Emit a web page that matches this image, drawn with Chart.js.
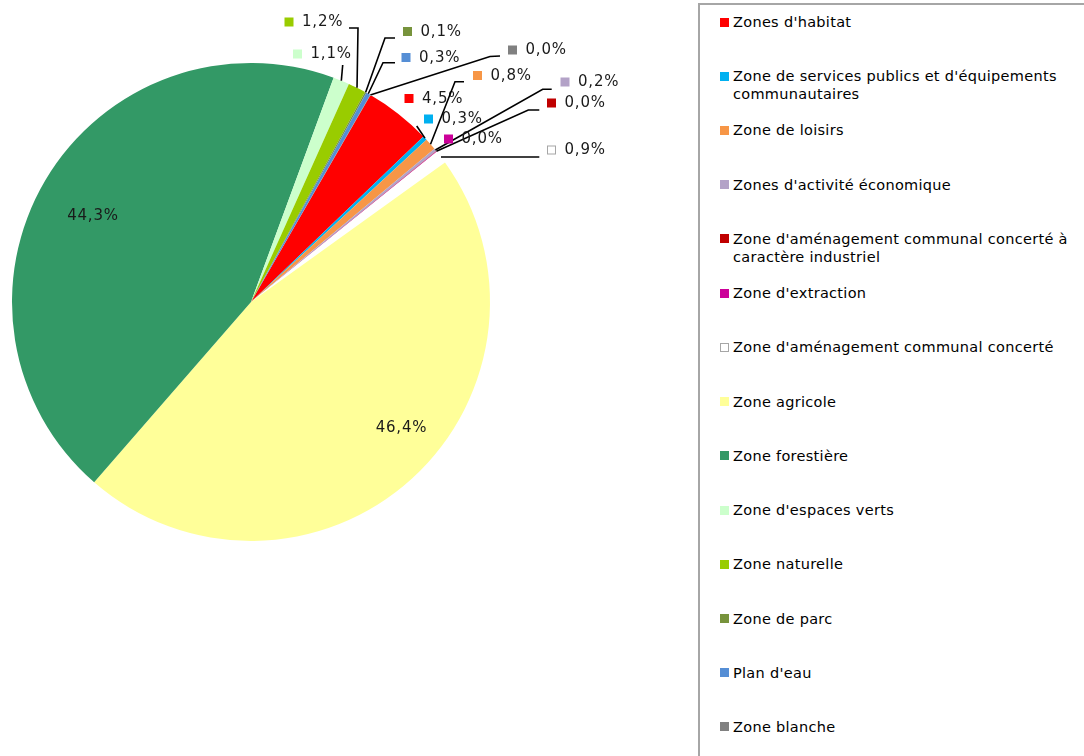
<!DOCTYPE html>
<html>
<head>
<meta charset="utf-8">
<script src="https://cdn.jsdelivr.net/npm/chart.js@4.4.1/dist/chart.umd.min.js"></script>
<style>
    html, body { margin: 0; padding: 0; background: #fff; overflow: hidden; }
    body { width: 1084px; height: 756px; position: relative; font-family: "DejaVu Sans", Verdana, sans-serif; }
    #wrap { position: absolute; left: 0; top: 0; width: 698px; height: 756px; }
    #legend-box { position: absolute; left: 698px; top: 3px; width: 420px; height: 800px; border-left: 2px solid #a6a6a6; border-top: 2px solid #a6a6a6; }
    .leg-item { position: absolute; left: 733px; width: 345px; font-size: 14.5px; line-height: 18px; letter-spacing: 0.3px; color: #000; }
    .leg-sq { position: absolute; left: -13px; top: 4.5px; width: 9px; height: 9px; box-sizing: border-box; }
</style>
</head>
<body>
<div id="wrap"><canvas id="chartZones"></canvas></div>
<div id="legend-box"></div>
<div id="legend"></div>
<script>
// ── Données ──
const zones = [
    "Zones d'habitat",
    "Zone de services publics et d'équipements communautaires",
    "Zone de loisirs",
    "Zones d'activité économique",
    "Zone d'aménagement communal concerté à caractère industriel",
    "Zone d'extraction",
    "Zone d'aménagement communal concerté",
    "Zone agricole",
    "Zone forestière",
    "Zone d'espaces verts",
    "Zone naturelle",
    "Zone de parc",
    "Plan d'eau",
    "Zone blanche"
];
const parts = [4.5, 0.3, 0.8, 0.2, 0.02, 0.03, 0.9, 46.4, 44.3, 1.1, 1.2, 0.1, 0.3, 0.02];
const couleurs = ['#FF0000', '#00B0F0', '#F79646', '#B3A2C7', '#C00000', '#CC0099', '#FFFFFF',
                  '#FFFF99', '#339966', '#CCFFCC', '#99CC00', '#77933C', '#558ED5', '#808080'];

// ── Placement des étiquettes (mise en page) ──
// sq: centre du carré, lead: coudes de la ligne de rappel, inside: texte centré sans carré
const etiquettes = [
    { sq: [409, 98.5] },
    { sq: [428.5, 119], lead: [[416.7, 126]] },
    { sq: [477.5, 75.5], lead: [[455, 81.7], [464, 81.7]] },
    { sq: [565, 82], lead: [[542.7, 89.3], [551.7, 89.3]] },
    { sq: [551.5, 103], lead: [[528.3, 110], [539.3, 110]] },
    { sq: [448.5, 139] },
    { sq: [551.5, 150], lead: [[539.3, 157]] },
    { inside: [401.5, 428] },
    { inside: [93, 216] },
    { sq: [297.5, 54], lead: [[342.7, 65]] },
    { sq: [289, 22], lead: [[358, 28], [349, 28]] },
    { sq: [407.5, 31.5], lead: [[385, 38], [395, 38]] },
    { sq: [406, 57.5], lead: [[383, 62.7], [395, 62.7]] },
    { sq: [512.5, 50], lead: [[490, 56.5], [500, 56]] }
];

const pct = v => v.toFixed(1).replace('.', ',') + '%';

// ── Plugin: étiquettes de données avec lignes de rappel ──
const etiquettesPlugin = {
    id: 'etiquettes',
    afterDatasetsDraw(chart) {
        const ctx  = chart.ctx;
        const meta = chart.getDatasetMeta(0);
        const ds   = chart.data.datasets[0];
        ctx.save();
        ctx.font = '15px "DejaVu Sans", Verdana, sans-serif';
        ctx.letterSpacing = '0.8px';
        ctx.textBaseline = 'middle';
        meta.data.forEach((arc, i) => {
            const e = etiquettes[i];
            if (!e) return;
            const { x, y, startAngle, endAngle, outerRadius } = arc.getProps(['x', 'y', 'startAngle', 'endAngle', 'outerRadius'], true);
            const mid = (startAngle + endAngle) / 2;
            const txt = pct(ds.data[i]);
            if (e.inside) {
                ctx.fillStyle = '#1a1a1a';
                ctx.textAlign = 'center';
                ctx.fillText(txt, e.inside[0], e.inside[1]);
                return;
            }
            if (e.lead) {
                ctx.strokeStyle = '#000';
                ctx.lineWidth = 1.6;
                ctx.beginPath();
                ctx.moveTo(x + Math.cos(mid) * outerRadius, y + Math.sin(mid) * outerRadius);
                e.lead.forEach(p => ctx.lineTo(p[0], p[1]));
                ctx.stroke();
            }
            const [sx, sy] = e.sq;
            ctx.fillStyle = ds.backgroundColor[i];
            ctx.fillRect(sx - 4.5, sy - 4.5, 9, 9);
            if (ds.backgroundColor[i] === '#FFFFFF') {
                ctx.strokeStyle = '#a6a6a6';
                ctx.lineWidth = 1;
                ctx.strokeRect(sx - 4, sy - 4, 8, 8);
            }
            ctx.fillStyle = '#1a1a1a';
            ctx.textAlign = 'left';
            ctx.fillText(txt, sx + 13, sy + 0.5);
        });
        ctx.restore();
    }
};

// ── Légende HTML ──
function construireLegende(chart) {
    const ds = chart.data.datasets[0];
    document.getElementById('legend').innerHTML = chart.data.labels.map((lab, i) => {
        const bord = ds.backgroundColor[i] === '#FFFFFF' ? 'border:1px solid #a6a6a6;' : '';
        return `<div class="leg-item" style="top:${13 + i * 54.23}px">
                    <span class="leg-sq" style="background:${ds.backgroundColor[i]};${bord}"></span>${lab}
                </div>`;
    }).join('');
}

const chart = new Chart(document.getElementById('chartZones'), {
    type: 'pie',
    data: {
        labels: zones,
        datasets: [{
            data: parts,
            backgroundColor: couleurs,
            borderWidth: 0,
            hoverBorderWidth: 0,
            offset: 0,
            hoverOffset: 0
        }]
    },
    options: {
        responsive: true,
        maintainAspectRatio: false,
        animation: false,
        rotation: 30,
        layout: { padding: { left: 12, top: 63, right: 208, bottom: 215 } },
        plugins: { legend: { display: false }, tooltip: { enabled: false } }
    },
    plugins: [etiquettesPlugin]
});
construireLegende(chart);
</script>
</body>
</html>
